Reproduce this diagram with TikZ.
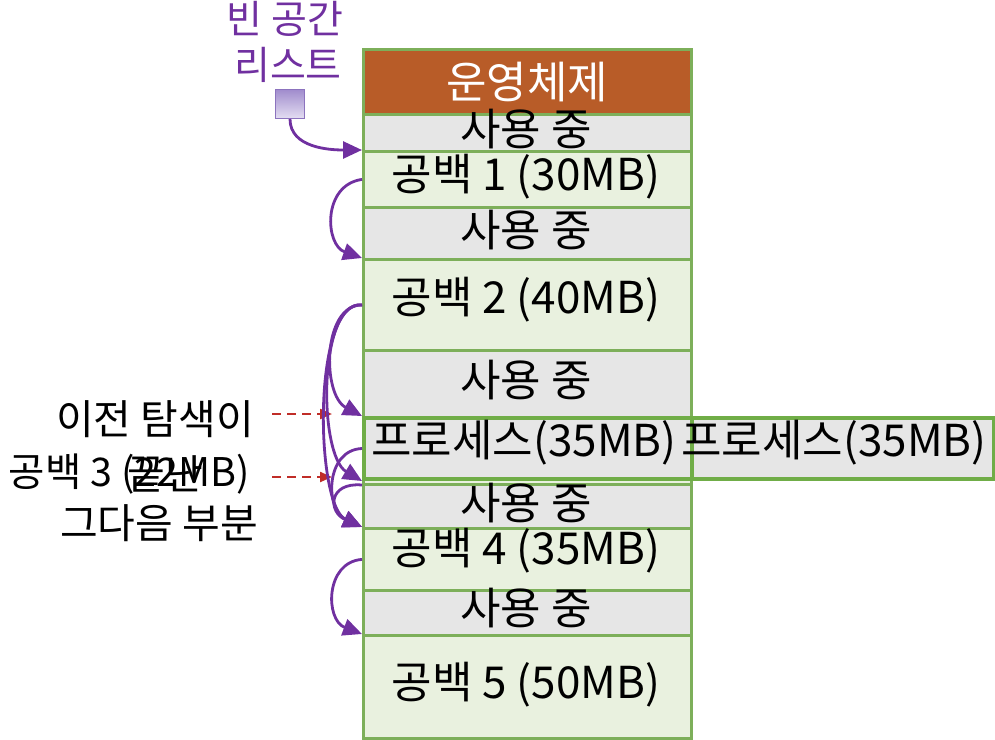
\documentclass[tikz,border=0pt]{standalone}
\usepackage{fontspec}
\setmainfont{Noto Sans CJK KR}
\usetikzlibrary{arrows.meta,calc}
\definecolor{osbrown}{RGB}{184,92,40}
\definecolor{usedgray}{RGB}{230,230,230}
\definecolor{freegreen}{RGB}{233,241,223}
\definecolor{edgegreen}{RGB}{125,175,90}
\definecolor{procgreen}{RGB}{112,173,71}
\definecolor{listpurple}{RGB}{112,48,160}
\definecolor{sqtop}{RGB}{160,140,205}
\definecolor{sqbot}{RGB}{228,222,242}
\definecolor{sqedge}{RGB}{140,115,190}
\definecolor{dashred}{RGB}{192,45,40}
\tikzset{
  x=1pt,y=-1pt,
  row/.style={draw=edgegreen,line width=2.8pt,inner sep=0pt,anchor=north west,minimum width=328pt,
    font=\fontsize{44}{50}\selectfont,text=black},
  usedrow/.style={row,fill=usedgray},
  freerow/.style={row,fill=freegreen},
  osrow/.style={row,fill=osbrown,text=white},
  procbox/.style={draw=procgreen,line width=4pt,fill=usedgray,inner sep=0pt,anchor=north west,
    minimum height=61pt},
  celltext/.style={font=\fontsize{44}{50}\selectfont,inner sep=0pt},
  link/.style={draw=listpurple,line width=2.8pt,-{Triangle[length=19pt,width=17pt]}},
  hint/.style={draw=dashred,line width=2.2pt,dash pattern=on 9pt off 6pt,-{Triangle[length=12pt,width=10pt]}},
  sidetext/.style={font=\fontsize{41}{46}\selectfont,inner sep=0pt},
  listtext/.style={font=\fontsize{39}{44}\selectfont,text=listpurple,inner sep=0pt}
}
\begin{document}
\begin{tikzpicture}
\useasboundingbox (0,0) rectangle (995,739);
% memory column
\node[osrow,minimum height=65pt] (os) at (362,48) {운영체제};
\node[usedrow,minimum height=37pt] (used1) at (362,113) {};
\node[freerow,minimum height=56pt] (free1) at (362,150) {};
\node[usedrow,minimum height=52pt] (used2) at (362,206) {};
\node[freerow,minimum height=91pt] (free2) at (362,258) {};
\node[usedrow,minimum height=67pt] (used3) at (362,349) {};
\node[freerow,minimum height=67pt] (free3) at (362,416) {};
\node[usedrow,minimum height=44pt] (used4) at (362,483) {};
\node[freerow,minimum height=62pt] (free4) at (362,527) {};
\node[usedrow,minimum height=45pt] (used5) at (362,589) {};
\node[freerow,minimum height=103pt] (free5) at (362,634) {};
% labels of rows
\node[celltext] (t1) at (526,129) {사용 중};
\node[celltext] (t2) at (526,177) {공백 1 (30MB)};
\node[celltext] (t3) at (526,230) {사용 중};
\node[celltext] (t4) at (526,300) {공백 2 (40MB)};
\node[celltext] (t5) at (526,380) {사용 중};
\node[celltext] (t6) at (526,503) {사용 중};
\node[celltext] (t7) at (526,551) {공백 4 (35MB)};
\node[celltext] (t8) at (526,608) {사용 중};
\node[celltext] (t9) at (526,685) {공백 5 (50MB)};
% process boxes
\node[procbox,minimum width=328pt] (proc) at (362,416) {};
\node[celltext] (proct) at (524,443) {프로세스(35MB)};
\node[procbox,minimum width=302pt] (procR) at (690,416) {};
\node[celltext] (procRt) at (834,443) {프로세스(35MB)};
% free list head
\node[listtext] (lab1) at (285,19) {빈 공간};
\node[listtext] (lab2) at (288,65) {리스트};
\node[draw=sqedge,line width=1pt,top color=sqtop,bottom color=sqbot,minimum size=29pt,inner sep=0pt,anchor=north west] (head) at (275,89) {};
% left hints
\node[sidetext,anchor=east] (h1) at (254,419) {이전 탐색이};
\node[sidetext,anchor=east,font=\fontsize{39.5}{45}\selectfont] (h2) at (250,474) {공백 3 (22MB)};
\node[sidetext] (h3) at (165,474) {끝난};
\node[sidetext,anchor=east] (h4) at (258,523) {그다음 부분};
\coordinate (d1) at (332,414);
\coordinate (d2) at (332,477);
\draw[hint] (h1.east |- d1) ++(18,0) -- (d1);
\draw[hint] (h2.east |- d2) ++(22,0) -- (d2);
% free-list links
\coordinate (s3a) at ($(proc.south west)+(0,4)$);
\draw[link] (head.south) .. controls (290,148) and (330,150) .. (free1.north west);
\draw[link] (free1.west) .. controls (322,185) and (325,245) .. (free2.north west);
\draw[link] (free2.west) .. controls (322,305) and (322,395) .. (proc.north west);
\draw[link] (free2.west) .. controls (318,300) and (318,455) .. (proc.south west);
\draw[link] (free2.west) .. controls (312,300) and (315,505) .. (free4.north west);
\draw[link] (proc.west) .. controls (325,450) and (325,510) .. (free4.north west);
\draw[link] (s3a) .. controls (328,482) and (328,512) .. (free4.north west);
\draw[link] (free4.west) .. controls (325,562) and (325,620) .. (free5.north west);
\end{tikzpicture}
\end{document}
